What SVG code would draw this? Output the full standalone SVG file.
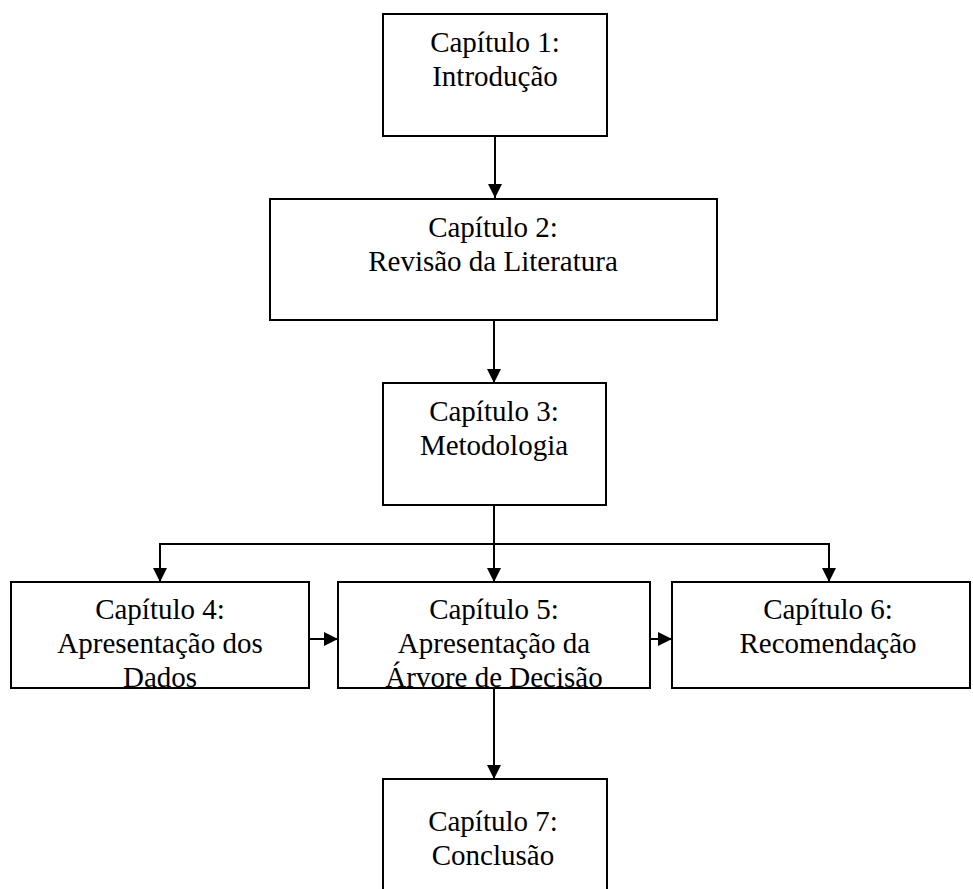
<svg xmlns="http://www.w3.org/2000/svg" width="973" height="889" viewBox="0 0 973 889">
  <style>
    .box { fill: #ffffff; stroke: #000000; stroke-width: 2; }
    .lbl { font-family: "Liberation Serif", "Times New Roman", serif; font-size: 29px; fill: #000000; text-anchor: middle; }
    .wire { fill: none; stroke: #000000; stroke-width: 2; }
  </style>
  <defs>
    <marker id="arrow" markerUnits="userSpaceOnUse" markerWidth="14" markerHeight="14" viewBox="0 0 14 14" refX="14" refY="7" orient="auto">
      <path d="M0,0 L14,7 L0,14 Z" fill="#000000"/>
    </marker>
  </defs>

  <rect width="973" height="889" fill="#ffffff"/>

  <g id="connectors">
    <line class="wire" x1="495" y1="136" x2="495" y2="198" marker-end="url(#arrow)"/>
    <line class="wire" x1="494" y1="320" x2="494" y2="383" marker-end="url(#arrow)"/>
    <line class="wire" x1="494" y1="505" x2="494" y2="582" marker-end="url(#arrow)"/>
    <polyline class="wire" points="494,544 160,544 160,582" marker-end="url(#arrow)"/>
    <polyline class="wire" points="494,544 829,544 829,582" marker-end="url(#arrow)"/>
    <line class="wire" x1="309" y1="639" x2="338" y2="639" marker-end="url(#arrow)"/>
    <line class="wire" x1="650" y1="639" x2="672" y2="639" marker-end="url(#arrow)"/>
    <line class="wire" x1="494" y1="688" x2="494" y2="779" marker-end="url(#arrow)"/>
  </g>

  <g id="cap1">
    <rect class="box" x="383" y="14" width="224" height="122"/>
    <text class="lbl" x="495" y="52">Capítulo 1:</text>
    <text class="lbl" x="495" y="86">Introdução</text>
  </g>

  <g id="cap2">
    <rect class="box" x="270" y="199" width="447" height="121"/>
    <text class="lbl" x="493" y="237">Capítulo 2:</text>
    <text class="lbl" x="493" y="271">Revisão da Literatura</text>
  </g>

  <g id="cap3">
    <rect class="box" x="383" y="383" width="223" height="122"/>
    <text class="lbl" x="494" y="421">Capítulo 3:</text>
    <text class="lbl" x="494" y="455">Metodologia</text>
  </g>

  <g id="cap4">
    <rect class="box" x="11" y="582" width="298" height="106"/>
    <text class="lbl" x="160" y="619">Capítulo 4:</text>
    <text class="lbl" x="160" y="653">Apresentação dos</text>
    <text class="lbl" x="160" y="687">Dados</text>
  </g>

  <g id="cap5">
    <rect class="box" x="338" y="582" width="312" height="106"/>
    <text class="lbl" x="494" y="619">Capítulo 5:</text>
    <text class="lbl" x="494" y="653">Apresentação da</text>
    <text class="lbl" x="494" y="687">Árvore de Decisão</text>
  </g>

  <g id="cap6">
    <rect class="box" x="672" y="582" width="298" height="106"/>
    <text class="lbl" x="828" y="619">Capítulo 6:</text>
    <text class="lbl" x="828" y="653">Recomendação</text>
  </g>

  <g id="cap7">
    <rect class="box" x="383" y="779" width="224" height="130"/>
    <text class="lbl" x="493" y="831">Capítulo 7:</text>
    <text class="lbl" x="493" y="865">Conclusão</text>
  </g>
</svg>
